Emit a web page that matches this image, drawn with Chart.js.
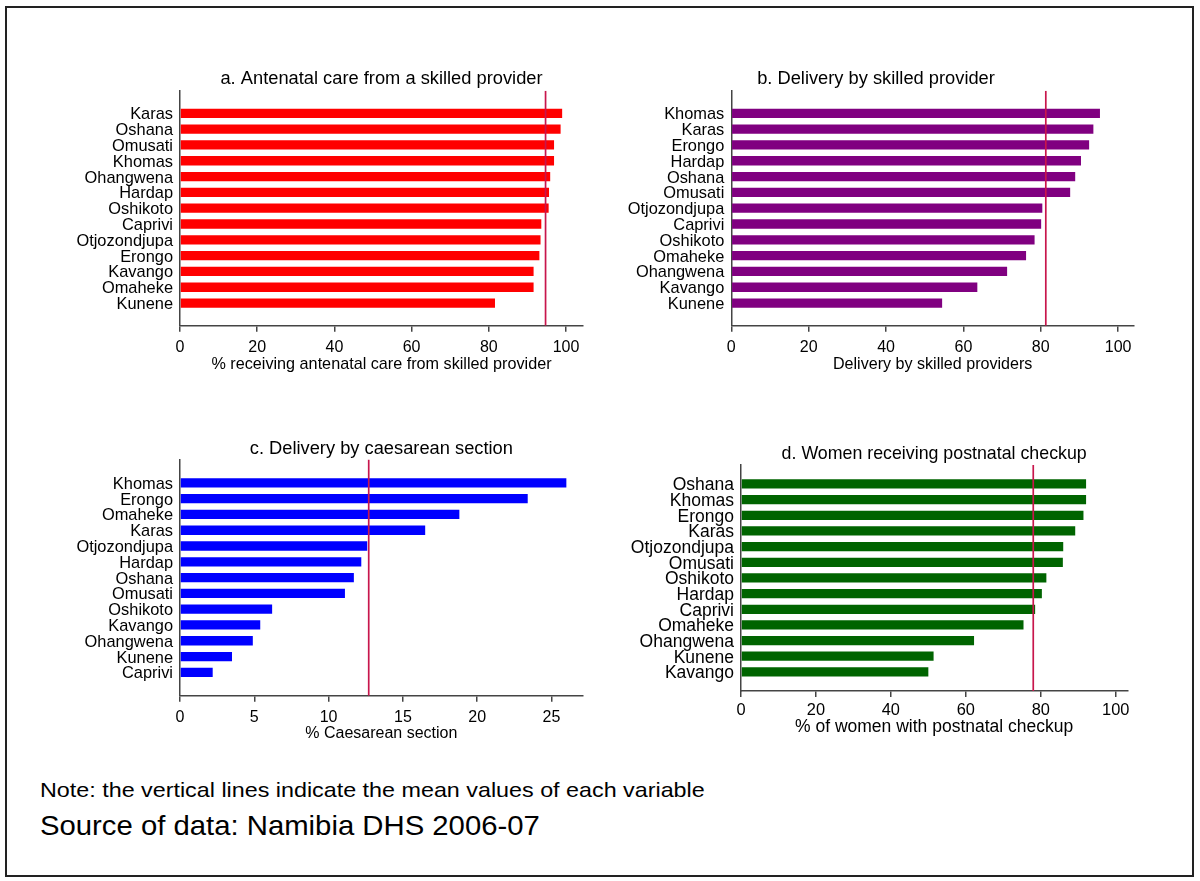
<!DOCTYPE html>
<html><head><meta charset="utf-8">
<script src="https://cdn.jsdelivr.net/npm/chart.js@4.4.1/dist/chart.umd.min.js"></script>
<style>
html,body{margin:0;padding:0;background:#fff;width:1200px;height:881px;overflow:hidden;}
#frame{position:absolute;left:5px;top:6px;width:1189px;height:871px;box-sizing:border-box;border:2px solid #222;}
.pc{position:absolute;}
.txt{position:absolute;left:40px;font-family:"Liberation Sans",Arial,sans-serif;color:#000;white-space:nowrap;transform-origin:0 0;line-height:1;}
</style></head><body>
<div id="frame"></div>
<div class="pc" id="wa"><canvas id="ca"></canvas></div>
<div class="pc" id="wb"><canvas id="cb"></canvas></div>
<div class="pc" id="wc"><canvas id="cc"></canvas></div>
<div class="pc" id="wd"><canvas id="cd"></canvas></div>
<div class="txt" id="note1" style="font-size:21px;top:779px;transform:scaleX(1.11);">Note: the vertical lines indicate the mean values of each variable</div>
<div class="txt" id="note2" style="font-size:27.5px;top:812px;transform:scaleX(1.065);">Source of data: Namibia DHS 2006-07</div>
<script>
// ---------- data ----------
const catsA = ["Karas","Oshana","Omusati","Khomas","Ohangwena","Hardap","Oshikoto","Caprivi","Otjozondjupa","Erongo","Kavango","Omaheke","Kunene"];
const valsA = [99.0,98.6,96.9,96.9,95.9,95.6,95.5,93.6,93.4,93.1,91.6,91.6,81.6];
const meanA = 94.7;
const catsB = ["Khomas","Karas","Erongo","Hardap","Oshana","Omusati","Otjozondjupa","Caprivi","Oshikoto","Omaheke","Ohangwena","Kavango","Kunene"];
const valsB = [95.3,93.6,92.5,90.4,88.9,87.6,80.4,80.1,78.4,76.2,71.3,63.6,54.5];
const meanB = 81.3;
const catsC = ["Khomas","Erongo","Omaheke","Karas","Otjozondjupa","Hardap","Oshana","Omusati","Oshikoto","Kavango","Ohangwena","Kunene","Caprivi"];
const valsC = [26.0,23.4,18.8,16.5,12.6,12.2,11.7,11.1,6.2,5.4,4.9,3.5,2.2];
const meanC = 12.7;
const catsD = ["Oshana","Khomas","Erongo","Karas","Otjozondjupa","Omusati","Oshikoto","Hardap","Caprivi","Omaheke","Ohangwena","Kunene","Kavango"];
const valsD = [92.1,92.1,91.4,89.2,86.0,85.9,81.5,80.3,78.5,75.4,62.2,51.4,50.0];
const meanD = 78.0;
const ticksPct = [0,20,40,60,80,100];
const ticksCs = [0,5,10,15,20,25];
const titleA = "a. Antenatal care from a skilled provider";
const titleB = "b. Delivery by skilled provider";
const titleC = "c. Delivery by caesarean section";
const titleD = "d. Women receiving postnatal checkup";
const axisA = "% receiving antenatal care from skilled provider";
const axisB = "Delivery by skilled providers";
const axisC = "% Caesarean section";
const axisD = "% of women with postnatal checkup";
// --------------------------

const FONT = '"Liberation Sans", Arial, Helvetica, sans-serif';
const AXC = '#444';
const MEANC = '#c8164c';

function panel(id, s) {
  const wrap = document.getElementById('w' + id);
  const titleY = s.titleY + 1.5, tickY = s.tickY + 2.5, axisTitleY = s.axisTitleY + 2;
  const lh = s.titleSize * 1.2;
  const cTop = Math.round(titleY - lh / 2 - 8);
  const tPadTop = titleY - cTop - lh / 2;
  const tPadBot = Math.max(0, s.plotTop - cTop - tPadTop - lh);
  const cLeft = s.fullTitle ? Math.round(2 * s.titleX - s.plotRight) : Math.floor(s.plotLeft - 120);
  const cRight = Math.ceil(s.plotRight + 6);
  const padRight = cRight - s.plotRight;
  const yW = s.plotLeft - cLeft;
  const tickLH = s.tickSize * 1.2, atLH = s.axisSize * 1.2;
  let xH = (axisTitleY - s.plotBottom) + atLH / 2 + 2;
  const cH = Math.round(s.plotBottom + xH - cTop);
  xH = cTop + cH - s.plotBottom;
  const atPadBot = xH - (axisTitleY - s.plotBottom) - atLH / 2;
  const tickPad = (tickY - s.plotBottom) - 6 - tickLH / 2;
  wrap.style.left = cLeft + 'px';
  wrap.style.top = cTop + 'px';
  wrap.style.width = (cRight - cLeft) + 'px';
  wrap.style.height = cH + 'px';

  const n = s.cats.length;
  new Chart(document.getElementById('c' + id), {
    type: 'bar',
    data: {
      datasets: [
        {
          type: 'line',
          data: [{x: s.mean, y: -s.yPad}, {x: s.mean, y: n - 1 + s.yPad}],
          borderColor: MEANC, borderWidth: 1.7, pointRadius: 0, fill: false, order: -1
        },
        {
          type: 'bar',
          data: s.vals.map((v, i) => ({x: v, y: i})),
          backgroundColor: s.color, borderWidth: 0,
          categoryPercentage: 1, barPercentage: 0.59, order: 1
        }
      ]
    },
    options: {
      indexAxis: 'y',
      responsive: true, maintainAspectRatio: false, animation: false,
      layout: {padding: {left: 0, right: padRight, top: 0, bottom: 0}},
      plugins: {
        legend: {display: false}, tooltip: {enabled: false},
        title: {
          display: true, text: s.title, color: '#000', fullSize: !!s.fullTitle,
          font: {family: FONT, size: s.titleSize, weight: 'normal', lineHeight: 1.2},
          padding: {top: tPadTop, bottom: tPadBot}
        }
      },
      scales: {
        x: {
          type: 'linear', min: 0, max: s.xMax, offset: false,
          afterBuildTicks: sc => { sc.ticks = s.xTicks.map(v => ({value: v})); },
          afterFit: sc => { sc.height = xH; },
          grid: {display: true, drawOnChartArea: false, drawTicks: true, tickLength: 6, color: AXC, lineWidth: 1.5, offset: false},
          border: {display: true, color: AXC, width: 1.5},
          ticks: {color: '#000', font: {family: FONT, size: s.tickSize, lineHeight: 1.2}, padding: tickPad, autoSkip: false, maxRotation: 0},
          title: {display: true, text: s.axisTitle, color: '#000', font: {family: FONT, size: s.axisSize, lineHeight: 1.2}, padding: {top: 0, bottom: atPadBot}}
        },
        y: {
          type: 'linear', reverse: true, min: -s.yPad, max: n - 1 + s.yPad, offset: false,
          afterBuildTicks: sc => { sc.ticks = s.cats.map((c, i) => ({value: i})); },
          afterFit: sc => { sc.width = yW; },
          grid: {display: false, drawTicks: false, offset: false},
          border: {display: true, color: AXC, width: 1.5},
          ticks: {color: '#000', font: {family: FONT, size: s.labelSize, lineHeight: 1.2}, padding: 7, autoSkip: false,
                  labelOffset: 1.5, callback: v => s.cats[v]}
        }
      }
    }
  });
}

panel('a', {cats: catsA, vals: valsA, mean: meanA, color: '#ff0000', title: titleA, axisTitle: axisA,
  xTicks: ticksPct, xMax: 104.4, plotLeft: 180, plotRight: 583, plotTop: 90.7, plotBottom: 325.7,
  titleY: 77, titleX: 381.5, fullTitle: false, tickY: 345, axisTitleY: 363, yPad: 1.43,
  titleSize: 18.3, labelSize: 16.4, tickSize: 16, axisSize: 16.2});
panel('b', {cats: catsB, vals: valsB, mean: meanB, color: '#800080', title: titleB, axisTitle: axisB,
  xTicks: ticksPct, xMax: 104.1, plotLeft: 731.3, plotRight: 1134, plotTop: 90.7, plotBottom: 325.7,
  titleY: 77, titleX: 876, fullTitle: true, tickY: 345, axisTitleY: 362.7, yPad: 1.43,
  titleSize: 18.3, labelSize: 16.4, tickSize: 16, axisSize: 16.1});
panel('c', {cats: catsC, vals: valsC, mean: meanC, color: '#0000ff', title: titleC, axisTitle: axisC,
  xTicks: ticksCs, xMax: 27.1, plotLeft: 180, plotRight: 582.7, plotTop: 459.3, plotBottom: 695.7,
  titleY: 447, titleX: 381, fullTitle: false, tickY: 715, axisTitleY: 731.7, yPad: 1.48,
  titleSize: 18.3, labelSize: 16.4, tickSize: 16, axisSize: 16});
panel('d', {cats: catsD, vals: valsD, mean: meanD, color: '#006400', title: titleD, axisTitle: axisD,
  xTicks: ticksPct, xMax: 103.1, plotLeft: 741, plotRight: 1127.3, plotTop: 463.3, plotBottom: 691,
  titleY: 452.7, titleX: 934, fullTitle: false, tickY: 708.3, axisTitleY: 725, yPad: 1.22,
  titleSize: 17.8, labelSize: 17.5, tickSize: 16.4, axisSize: 17.5});
</script>
</body></html>
